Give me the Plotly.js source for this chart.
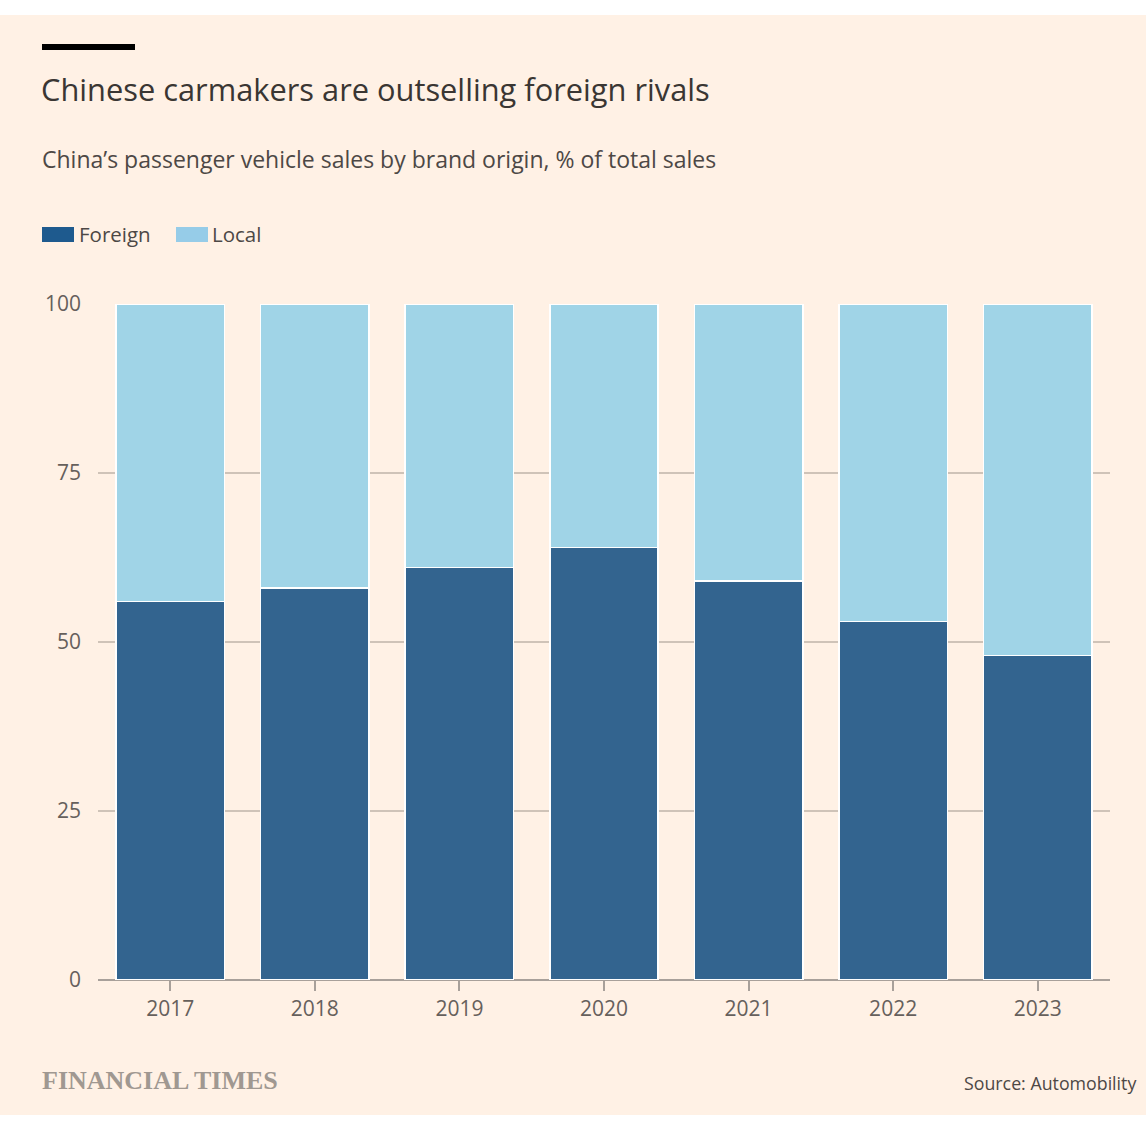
<!DOCTYPE html>
<html><head><meta charset="utf-8">
<script src="https://cdn.plot.ly/plotly-3.0.1.min.js"></script>
<style>
html,body{margin:0;padding:0;background:#ffffff;width:1146px;height:1122px;overflow:hidden;}
#chart{position:absolute;left:0;top:15px;width:1146px;height:1100px;}
</style></head>
<body><div id="chart"></div>
<script>
const years = ['2017','2018','2019','2020','2021','2022','2023'];
const foreign = [56, 58, 61, 64, 59, 53, 48];
const local = [44, 42, 39, 36, 41, 47, 52];
const seriesNames = ['Foreign', 'Local'];
const yTicks = [0, 25, 50, 75, 100];

const W = 1146, H = 1100, L = 98, R = 36, T = 289, B = 135;
const pw = W - L - R, ph = H - T - B;
const px = x => (x - L) / pw;
const py = y => (H - B - y) / ph;
const FONT = '"Open Sans", Lato, sans-serif';

const cForeign = '#33648f', cLocal = '#a0d4e7';

const traces = [
  {type:'bar', x: years, y: foreign, name: seriesNames[0],
   marker:{color:cForeign, line:{color:'#ffffff', width:1.5}}, showlegend:false, hoverinfo:'y'},
  {type:'bar', x: years, y: local, name: seriesNames[1],
   marker:{color:cLocal, line:{color:'#ffffff', width:1.5}}, showlegend:false, hoverinfo:'y'}
];

const layout = {
  width: W, height: H,
  paper_bgcolor:'#fff1e5', plot_bgcolor:'rgba(0,0,0,0)',
  margin:{l:L, r:R, t:T, b:B, pad:0},
  barmode:'stack', bargap:0.25,
  font:{family:FONT, color:'#66605c'},
  title:{text:'Chinese carmakers are outselling foreign rivals', x:41/W, xanchor:'left',
         xref:'container', yref:'container', y:1-(75/H), yanchor:'middle',
         font:{family:FONT, size:30.8, color:'#3a3633'}},
  xaxis:{type:'category', tickvals: years, ticktext: years, range:[-0.5,6.5],
         ticks:'outside', ticklen:10, tickwidth:2, tickcolor:'#a8a09a',
         showline:false, showgrid:false, zeroline:false,
         tickfont:{family:FONT, size:21, color:'#66605c'}},
  yaxis:{range:[0,100], tickvals: yTicks, ticktext: yTicks.map(String),
         showgrid:true, gridcolor:'#cfc3b8', gridwidth:2,
         zeroline:true, zerolinecolor:'#a8a09a', zerolinewidth:2,
         showline:false, ticks:'', ticklabelstandoff:16,
         tickfont:{family:FONT, size:21, color:'#66605c'}},
  shapes:[
    {type:'rect', xref:'paper', yref:'paper', x0:px(42), x1:px(135), y0:py(29), y1:py(35),
     fillcolor:'#000000', line:{width:0}},
    {type:'rect', xref:'paper', yref:'paper', x0:px(42), x1:px(74), y0:py(212), y1:py(227),
     fillcolor:'#1e5a8e', line:{width:0}},
    {type:'rect', xref:'paper', yref:'paper', x0:px(176), x1:px(208), y0:py(212), y1:py(227),
     fillcolor:'#96cce8', line:{width:0}}
  ],
  annotations:[
    {xref:'paper', yref:'paper', x:px(40), y:py(144), xanchor:'left', yanchor:'middle', showarrow:false,
     text:'China’s passenger vehicle sales by brand origin, % of total sales',
     font:{family:FONT, size:23, color:'#4d4845'}},
    {xref:'paper', yref:'paper', x:px(77), y:py(219), xanchor:'left', yanchor:'middle', showarrow:false,
     text:seriesNames[0], font:{family:FONT, size:20.5, color:'#4d4845'}},
    {xref:'paper', yref:'paper', x:px(210), y:py(219), xanchor:'left', yanchor:'middle', showarrow:false,
     text:seriesNames[1], font:{family:FONT, size:20.5, color:'#4d4845'}},
    {xref:'paper', yref:'paper', x:px(40), y:py(1065), xanchor:'left', yanchor:'middle', showarrow:false,
     text:'FINANCIAL TIMES', font:{family:'"Liberation Serif", "DejaVu Serif", serif', size:26, color:'#a09891', weight:600}},
    {xref:'paper', yref:'paper', x:px(1138), y:py(1068), xanchor:'right', yanchor:'middle', showarrow:false,
     text:'Source: Automobility', font:{family:FONT, size:17.8, color:'#4d4845'}}
  ]
};

Plotly.newPlot('chart', traces, layout, {displayModeBar:false, staticPlot:true});
</script></body></html>
